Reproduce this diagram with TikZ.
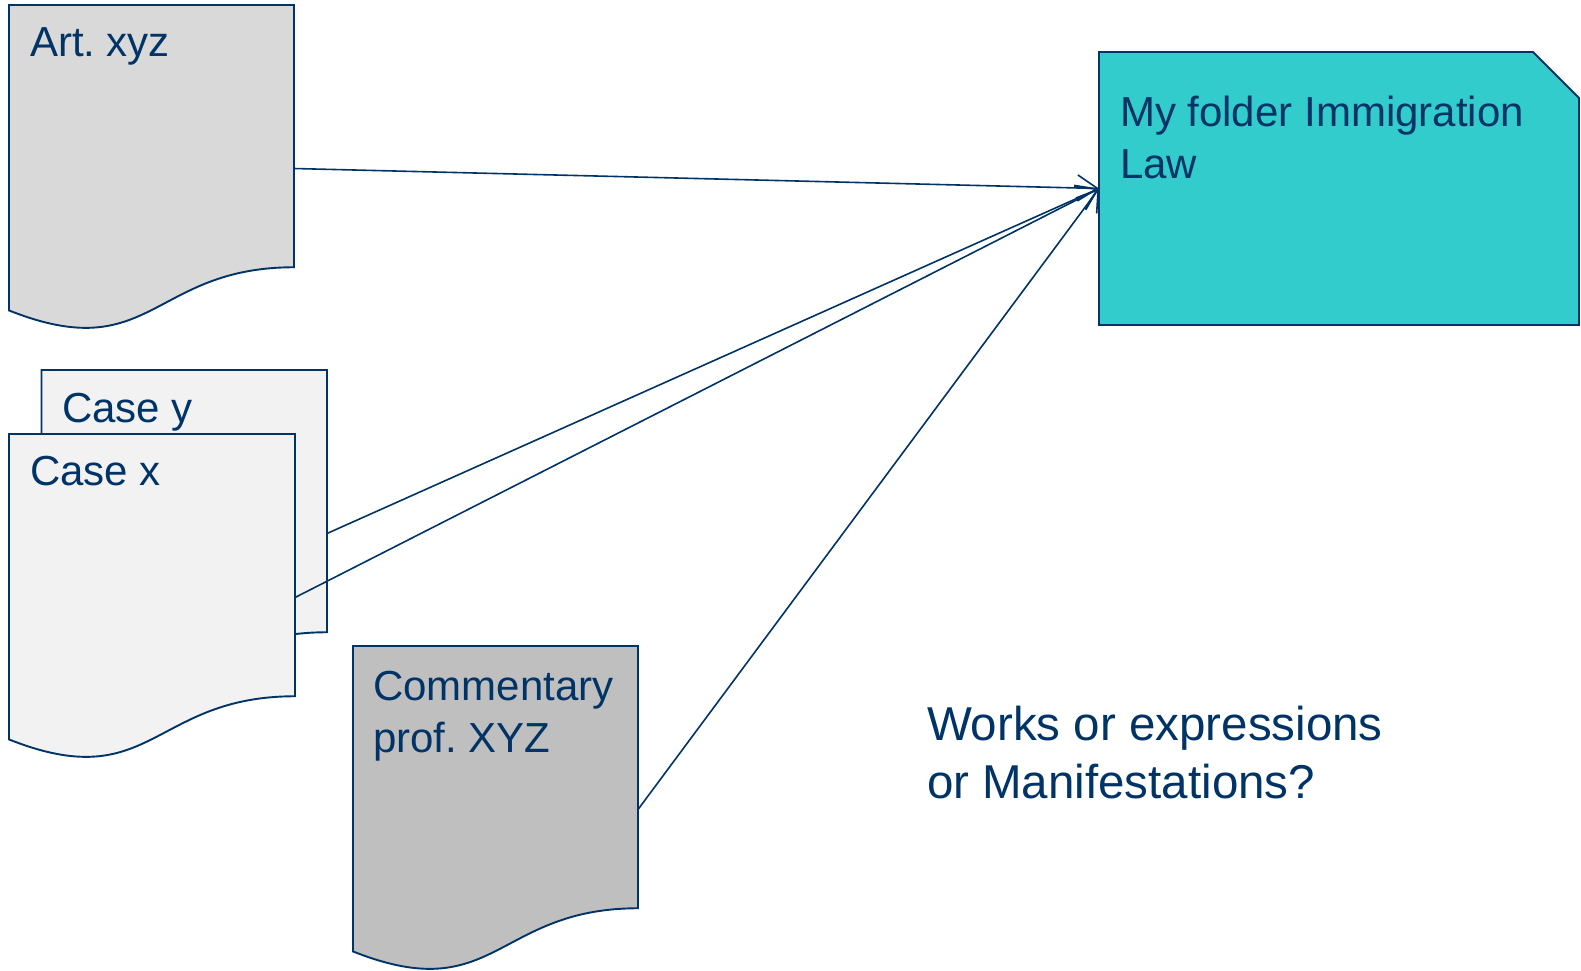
\documentclass[tikz,border=0pt]{standalone}
\usepackage{fontspec}
\setmainfont{Liberation Sans}
\usetikzlibrary{calc,arrows.meta}
\frenchspacing
\definecolor{navy}{RGB}{0,51,102}
\definecolor{artgray}{RGB}{217,217,217}
\definecolor{casegray}{RGB}{242,242,242}
\definecolor{comgray}{RGB}{191,191,191}
\definecolor{folderteal}{RGB}{51,204,204}
\newcommand\docshape[2]{%
  \filldraw[docline, fill=#2] (#1.north west) -- (#1.north east)
    -- ($(#1.north east)!0.802!(#1.south east)$)
    .. controls ($(#1.north)!0.802!(#1.south)$) and ($(#1.north)!1.1075!(#1.south)$)
    .. ($(#1.north west)!0.934!(#1.south west)$) -- cycle;}
\tikzset{
  docnode/.style={minimum width=285pt, minimum height=327pt, inner sep=0pt, outer sep=0pt, anchor=north west},
  docline/.style={draw=navy, line width=1.9pt, line join=miter},
  lbl/.style={inner sep=0pt, outer sep=0pt, text=navy, align=left, font=\fontsize{42}{51.5}\selectfont\frenchspacing},
  bigtext/.style={inner sep=0pt, outer sep=0pt, text=navy, align=left, font=\fontsize{47.5}{58}\selectfont\frenchspacing},
  conn/.style={draw=navy, line width=1.6pt, -{Straight Barb[length=20pt,width=26pt,line width=1.6pt]}}
}
\begin{document}
\begin{tikzpicture}[x=1pt,y=-1pt]
\useasboundingbox (0,0) rectangle (1581,970);
% document nodes (anchors)
\node[docnode] (art) at (9,5) {};
\node[docnode, minimum width=285.5pt] (casey) at (41.5,370) {};
\node[docnode, minimum width=286pt] (casex) at (9,434) {};
\node[docnode] (comm) at (353,646) {};
% shapes
\docshape{art}{artgray}
\docshape{casey}{casegray}
\docshape{casex}{casegray}
\docshape{comm}{comgray}
% folder
\node[minimum width=480pt, minimum height=273pt, inner sep=0pt, outer sep=0pt, anchor=north west] (folder) at (1099,52) {};
\filldraw[docline, fill=folderteal] (folder.north west) -- ($(folder.north east)+(-46,0)$) -- ($(folder.north east)+(0,46)$) -- (folder.south east) -- (folder.south west) -- cycle;
% labels
\node[lbl, anchor=base west] (artT) at (30,56) {Art. xyz};
\node[lbl, anchor=base west] (caseyT) at (62,422) {Case y};
\node[lbl, anchor=base west] (casexT) at (30,485) {Case x};
\node[lbl, anchor=base west] (commT) at (373,752) {Commentary\\prof. XYZ};
\node[lbl, anchor=base west] (folderT) at (1120,178) {My folder Immigration\\Law};
\node[bigtext, anchor=base west] (question) at (927,798) {Works or expressions\\or Manifestations?};
% connectors
\draw[conn] (art.east) -- (folder.west);
\draw[conn] (casey.east) -- (folder.west);
\draw[conn] (casex.east) -- (folder.west);
\draw[conn] (comm.east) -- (folder.west);
\end{tikzpicture}
\end{document}
